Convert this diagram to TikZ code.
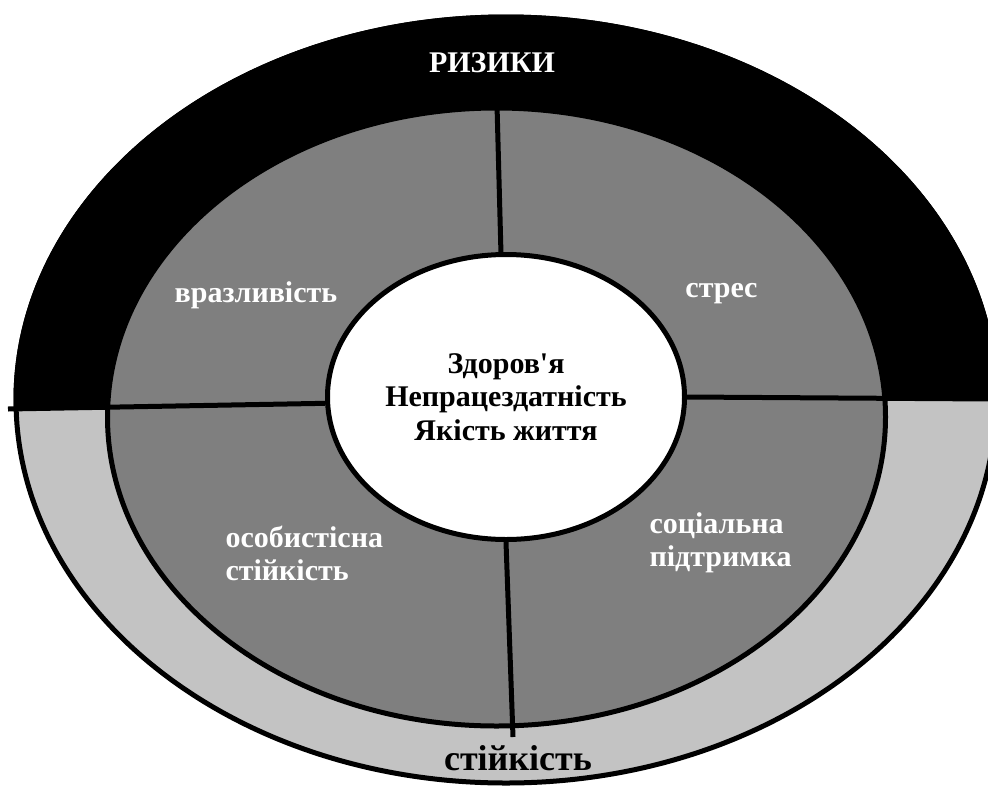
\documentclass[tikz,border=0pt]{standalone}
\usepackage{fontspec}
\setmainfont{Liberation Serif}[Ligatures=TeXOff]
\usetikzlibrary{shapes.geometric}
\definecolor{lightring}{RGB}{195,195,195}
\definecolor{darkring}{RGB}{127,127,127}
\begin{document}
\begin{tikzpicture}[x=1pt, y=-1pt, line width=5pt,
    sectorlabel/.style={text=white, font=\bfseries\fontsize{30}{33}\selectfont, align=left, inner sep=0pt},
    ringlabel/.style={font=\bfseries\fontsize{30}{33}\selectfont, inner sep=0pt}]
        \useasboundingbox (0,0) rectangle (988,785);
        % coordinates for the ellipses
        \coordinate (outercenter)  at (506,400);
        \coordinate (middlecenter) at (496.5,417);
        % coordinates for the ends of the dividing lines
        \coordinate (ringleft)   at (8,409);
        \coordinate (ringright)  at (992,399);
        \coordinate (topend)     at (497,105);
        \coordinate (bottomend)  at (513,737);
        % drawing the outer ring
        \fill[lightring] (outercenter) ellipse [x radius=490, y radius=383];
        \begin{scope}
          \clip (0,0) -- (0,409) -- (ringleft) -- (ringright) -- (992,0) -- cycle;
          \fill[black] (outercenter) ellipse [x radius=492.5, y radius=385.5];
        \end{scope}
        \draw (outercenter) ellipse [x radius=490, y radius=383];
        % drawing the middle ring
        \filldraw[fill=darkring] (middlecenter) ellipse [x radius=389, y radius=309];
        % drawing the centre
        \node[ellipse, draw, fill=white, minimum width=357pt, minimum height=285pt, inner sep=0pt,
              font=\bfseries\fontsize{30}{33.5}\selectfont, align=center] (core) at (506,397)
              {Здоров'я\\Непрацездатність\\Якість життя};
        % drawing the dividing lines
        \draw (core.92)    -- (topend);
        \draw (core.south) -- (bottomend);
        \draw (ringleft)   -- (core.182);
        \draw (core.east)  -- (ringright);
        % labels of the rings and the sectors
        \node[ringlabel, text=white, anchor=base] (risks)      at (492,72)  {РИЗИКИ};
        \node[ringlabel, anchor=base, font=\bfseries\fontsize{36}{40}\selectfont]
                                                  (resilience) at (518,770) {стійкість};
        \node[sectorlabel, anchor=base]      (vulnerability) at (256,302) {вразливість};
        \node[sectorlabel, anchor=base]      (stress)        at (721.5,297) {стрес};
        \node[sectorlabel, anchor=base west] (personal)      at (223,580) {особистісна\\стійкість};
        \node[sectorlabel, anchor=base west] (support)       at (647,566) {соціальна\\підтримка};
\end{tikzpicture}
\end{document}
